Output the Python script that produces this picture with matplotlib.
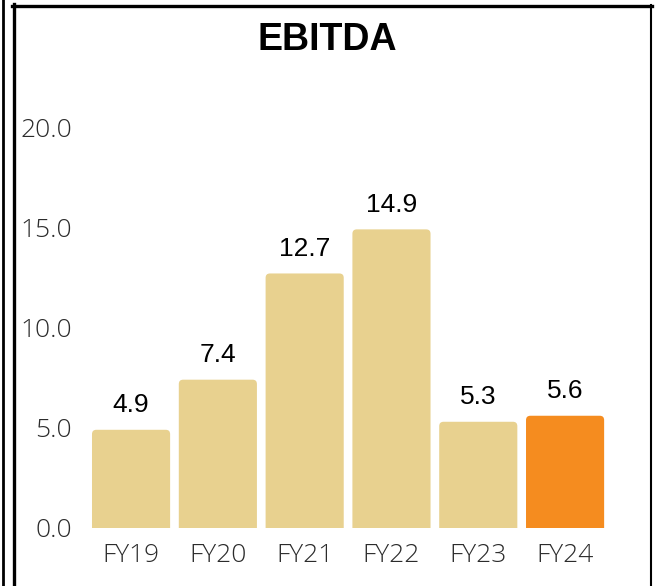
import matplotlib.pyplot as plt
from matplotlib.patches import FancyBboxPatch
from matplotlib.lines import Line2D

years = ['FY19', 'FY20', 'FY21', 'FY22', 'FY23', 'FY24']
ebitda = [4.9, 7.4, 12.7, 14.9, 5.3, 5.6]
colors = ['#E8D18F', '#E8D18F', '#E8D18F', '#E8D18F', '#E8D18F', '#F58C1F']

fig = plt.figure(figsize=(6.55, 5.86), dpi=100)
ax = fig.add_axes([0.1272, 0.099, 0.8084, 0.684])

x = range(len(years))
bars = ax.bar(x, ebitda, width=0.9, color=colors)

# swap the plain bars for rounded ones (bottom corners sit below 0 and get clipped)
px_x = 0.8084 * 655 / 6.1
px_y = 0.684 * 586 / 20.0
for b, c in zip(bars, colors):
    b.set_visible(False)
    p = FancyBboxPatch((b.get_x(), -0.5), b.get_width(), b.get_height() + 0.5,
                       boxstyle='round,pad=0,rounding_size=0.05',
                       mutation_aspect=px_x / px_y, facecolor=c, edgecolor='none')
    ax.add_patch(p)

for i, v in enumerate(ebitda):
    ax.annotate(f'{v:.1f}', (i, v), xytext=(0, 9), textcoords='offset points',
                ha='center', va='bottom', fontsize=19, family='Liberation Sans',
                color='black')

ax.set_xlim(-0.55, 5.55)
ax.set_ylim(0, 20)
ax.set_yticks([0, 5, 10, 15, 20])
ax.set_yticklabels([f'{t:.1f}' for t in [0, 5, 10, 15, 20]])
ax.set_xticks(list(x))
ax.set_xticklabels(years)
ax.tick_params(length=0, labelsize=19, labelcolor='#2b2b2b')
ax.tick_params(axis='x', pad=11)
ax.tick_params(axis='y', pad=8)
for lab in ax.get_xticklabels() + ax.get_yticklabels():
    lab.set_family('Open Sans')
    lab.set_fontweight('light')
for s in ax.spines.values():
    s.set_visible(False)

fig.text(0.5, 0.932, 'EBITDA', ha='center', va='center', fontsize=27,
         fontweight='bold', family='Liberation Sans')

# frame lines
W, H = 655.0, 586.0
fig.add_artist(Line2D([3 / W, 3 / W], [0, 1], color='black', lw=2))
fig.add_artist(Line2D([13.5 / W, 13.5 / W], [0, 1 - 4 / H], color='black', lw=2.4))
fig.add_artist(Line2D([12 / W, 652 / W], [1 - 5.5 / H, 1 - 5.5 / H], color='black', lw=2.4))
fig.add_artist(Line2D([651 / W, 651 / W], [0, 1 - 5 / H], color='black', lw=1.5))

fig.savefig('out.png', dpi=100)
